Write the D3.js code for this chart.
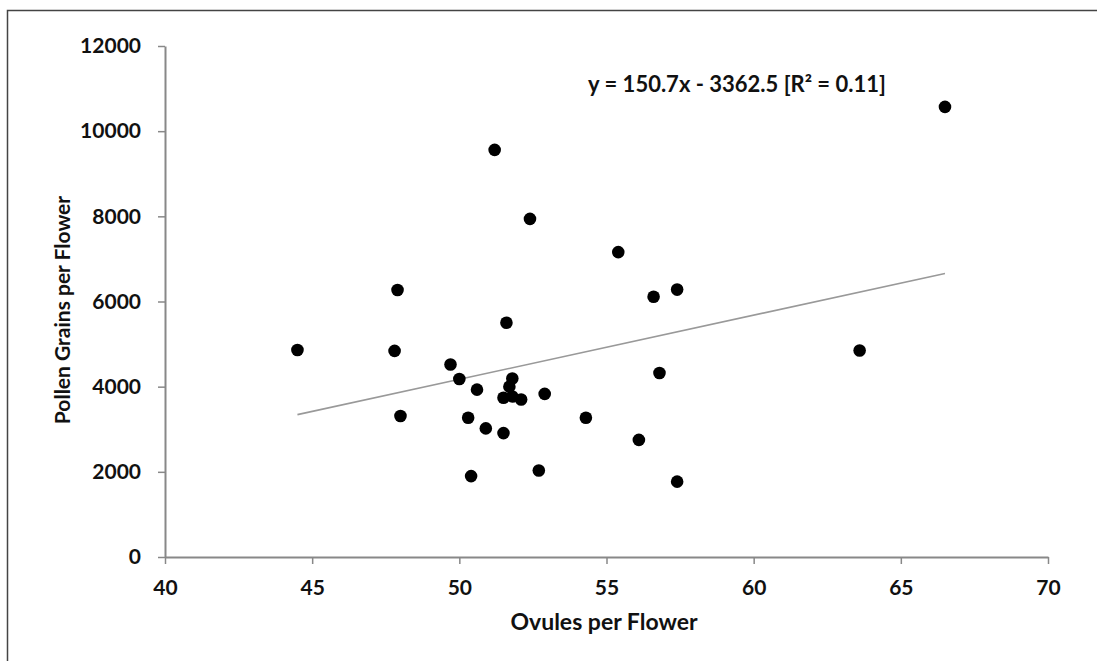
<!DOCTYPE html>
<html>
<head>
<meta charset="utf-8">
<script src="https://cdn.jsdelivr.net/npm/d3@7"></script>
<style>
  body { margin: 0; background: #fff; }
  svg text { font-family: Lato, "Open Sans", sans-serif; font-weight: bold; fill: #111; }
</style>
</head>
<body>
<svg id="chart"></svg>
<script>
// Constant Values
const width = 1097;
const height = 661;

// Data
const ovules = [44.5, 47.8, 47.9, 48.0, 49.7, 50.0, 50.3, 50.4, 50.6, 50.9,
                51.2, 51.5, 51.6, 51.5, 51.7, 51.8, 51.8, 52.1, 52.4, 52.7,
                52.9, 54.3, 55.4, 56.1, 56.6, 56.8, 57.4, 57.4, 63.6, 66.5];
const pollen = [4860, 4840, 6270, 3310, 4520, 4180, 3270, 1900, 3930, 3020,
                9560, 2910, 5500, 3740, 4000, 4190, 3770, 3700, 7940, 2030,
                3830, 3270, 7160, 2750, 6110, 4320, 6280, 1770, 4850, 10570];
const xTicks = [40, 45, 50, 55, 60, 65, 70];
const yTicks = [0, 2000, 4000, 6000, 8000, 10000, 12000];
const slope = 150.7;
const intercept = -3362.5;
const fitRange = [44.5, 66.5];
const equationText = "y = 150.7x - 3362.5 [R\u00B2 = 0.11]";

const svg = d3.select("#chart")
    .attr("width", width)
    .attr("height", height);

// Outer frame
svg.append("rect")
    .attr("x", 7.5)
    .attr("y", 10.5)
    .attr("width", width + 10)
    .attr("height", height + 10)
    .attr("fill", "none")
    .attr("stroke", "#444")
    .attr("stroke-width", 1.5);

// Scales
const xScale = d3.scaleLinear().domain([40, 70]).range([165, 1048]);
const yScale = d3.scaleLinear().domain([0, 12000]).range([557, 46]);

// Axes
const xAxis = d3.axisBottom(xScale).tickValues(xTicks).tickFormat(d3.format("d"))
    .tickSize(7).tickSizeOuter(0).tickPadding(16);
const yAxis = d3.axisLeft(yScale).tickValues(yTicks).tickFormat(d3.format("d"))
    .tickSize(7).tickSizeOuter(0).tickPadding(17);

const gx = svg.append("g")
    .attr("transform", `translate(0, ${yScale(0)})`)
    .call(xAxis);

const gy = svg.append("g")
    .attr("transform", `translate(${xScale(40)}, 0)`)
    .call(yAxis);

[gx, gy].forEach(g => {
    g.select(".domain").attr("stroke", "#888").attr("stroke-width", 2);
    g.selectAll(".tick line").attr("stroke", "#888").attr("stroke-width", 1.5);
    g.selectAll(".tick text").attr("font-size", 21).attr("fill", "#111")
        .attr("font-family", "Lato, 'Open Sans', sans-serif").attr("font-weight", "bold");
});

// Regression line
svg.append("line")
    .attr("x1", xScale(fitRange[0]))
    .attr("y1", yScale(slope * fitRange[0] + intercept))
    .attr("x2", xScale(fitRange[1]))
    .attr("y2", yScale(slope * fitRange[1] + intercept))
    .attr("stroke", "#999")
    .attr("stroke-width", 1.6);

// Points
svg.selectAll(".dot")
    .data(ovules.map((d, i) => [d, pollen[i]]))
    .enter()
    .append("circle")
    .attr("class", "dot")
    .attr("cx", d => xScale(d[0]))
    .attr("cy", d => yScale(d[1]))
    .attr("r", 6.3)
    .attr("fill", "#000");

// Axis titles
svg.append("text")
    .attr("x", 604)
    .attr("y", 630)
    .attr("text-anchor", "middle")
    .attr("font-size", 23)
    .text("Ovules per Flower");

svg.append("text")
    .attr("transform", "translate(70, 310) rotate(-90)")
    .attr("text-anchor", "middle")
    .attr("font-size", 21)
    .text("Pollen Grains per Flower");

// Equation label
svg.append("text")
    .attr("x", 737)
    .attr("y", 92)
    .attr("text-anchor", "middle")
    .attr("font-size", 22)
    .text(equationText);
</script>
</body>
</html>
